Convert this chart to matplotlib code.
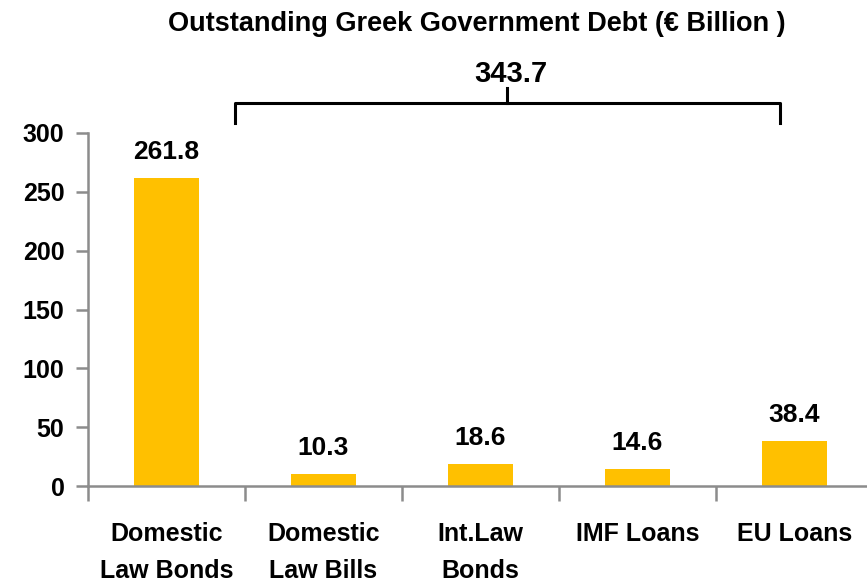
import matplotlib
matplotlib.use("Agg")
import matplotlib.pyplot as plt
from matplotlib.ticker import FixedLocator

categories = ["Domestic\nLaw Bonds", "Domestic\nLaw Bills", "Int.Law\nBonds", "IMF Loans", "EU Loans"]
values = [261.8, 10.3, 18.6, 14.6, 38.4]
total_label = "343.7"
yticks = [0, 50, 100, 150, 200, 250, 300]
title = "Outstanding Greek Government Debt (\u20ac Billion )"

plt.rcParams['font.family'] = ['Liberation Sans', 'DejaVu Sans']
plt.rcParams['font.weight'] = 'bold'

fig = plt.figure(figsize=(8.67, 5.84), dpi=100)
W, H = 867, 584
left, right, bottom, top = 88, 867, 486, 133
ax = fig.add_axes([left / W, 1 - bottom / H, (right - left) / W, (bottom - top) / H])

x = list(range(len(categories)))
ax.bar(x, values, width=0.41, color="#FFC000", zorder=2)
for xi, v in zip(x, values):
    ax.text(xi, v + 12, f"{v:.1f}", ha="center", va="bottom", fontsize=19, fontweight="bold")

ax.set_ylim(0, 300)
ax.set_xlim(-0.5, -0.5 + (right - left) / 157)
ax.set_yticks(yticks)
ax.set_yticklabels([str(t) for t in yticks], fontsize=18, fontweight="bold")
ax.set_xticks(x)
ax.set_xticklabels(categories, fontsize=18, fontweight="bold", linespacing=1.7)
ax.xaxis.set_minor_locator(FixedLocator([i - 0.5 for i in range(len(categories) + 1)]))
ax.tick_params(axis="x", which="major", length=0, pad=26)
ax.tick_params(axis="x", which="minor", length=11, width=1.8, color="#8c8c8c", direction="out")
ax.tick_params(axis="y", length=9, width=1.8, color="#8c8c8c", pad=8)
for s in ["top", "right"]:
    ax.spines[s].set_visible(False)
for s in ["left", "bottom"]:
    ax.spines[s].set_color("#8c8c8c")
    ax.spines[s].set_linewidth(1.8)

# bracket over categories 1..4
def fx(px):
    return px / W
def fy(py):
    return 1 - py / H
bx0, bx1, by, bdrop, bmid = 235, 780, 103, 123, 507
fig.add_artist(plt.Line2D([fx(bx0), fx(bx0), fx(bx1), fx(bx1)],
                          [fy(bdrop), fy(by), fy(by), fy(bdrop)], color="black", lw=2.2))
fig.add_artist(plt.Line2D([fx(bmid), fx(bmid)], [fy(by), fy(88)], color="black", lw=2.2))
fig.text(fx(511), fy(74), total_label, ha="center", va="center", fontsize=21, fontweight="bold")

fig.text(fx(477), fy(24), title, ha="center", va="center", fontsize=19.5, fontweight="bold")

fig.savefig("out.png", dpi=100)
